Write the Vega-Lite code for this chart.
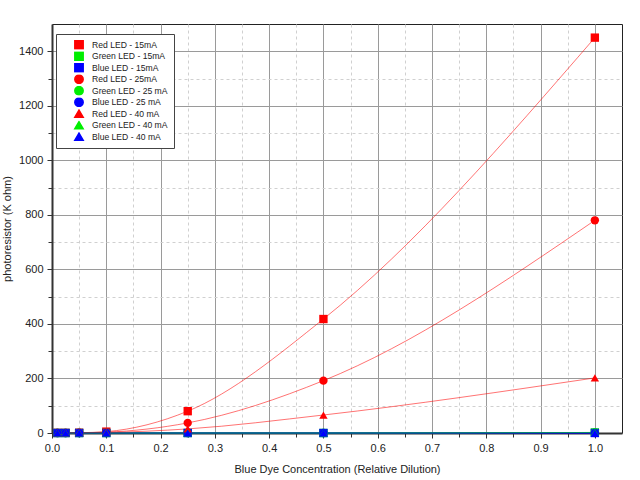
{
  "$schema": "https://vega.github.io/schema/vega-lite/v6.json",
  "width": 570,
  "height": 409,
  "autosize": {"type": "none"},
  "padding": {"left": 52, "top": 24, "right": 18, "bottom": 47},
  "background": "white",
  "config": {
    "font": "Liberation Sans",
    "view": {"stroke": "#222", "strokeWidth": 1},
    "axis": {"labelFont": "Liberation Sans", "titleFont": "Liberation Sans", "labelFontSize": 11, "titleFontSize": 11, "titleFontWeight": "normal", "labelColor": "#222", "titleColor": "#222", "tickColor": "#333", "domainColor": "#333", "labelFlush": false},
    "legend": {"orient": "none", "legendX": 4, "legendY": 10, "fillColor": "white", "strokeColor": "#444", "padding": 6, "labelFontSize": 8.6, "labelFont": "Liberation Sans", "labelColor": "#222", "rowPadding": 1.5, "clipHeight": 9.5, "symbolOffset": 12, "labelOffset": 8, "symbolOpacity": 1}
  },
  "data": {
    "values": [
      {"series": "Red LED - 15mA", "conc": 0.01, "value": 0.5},
      {"series": "Red LED - 15mA", "conc": 0.025, "value": 0.5},
      {"series": "Red LED - 15mA", "conc": 0.05, "value": 1},
      {"series": "Red LED - 15mA", "conc": 0.1, "value": 5},
      {"series": "Red LED - 15mA", "conc": 0.25, "value": 80},
      {"series": "Red LED - 15mA", "conc": 0.5, "value": 418},
      {"series": "Red LED - 15mA", "conc": 1.0, "value": 1450},
      {"series": "Green LED - 15mA", "conc": 0.01, "value": 0},
      {"series": "Green LED - 15mA", "conc": 0.025, "value": 0},
      {"series": "Green LED - 15mA", "conc": 0.05, "value": 0},
      {"series": "Green LED - 15mA", "conc": 0.1, "value": 0},
      {"series": "Green LED - 15mA", "conc": 0.25, "value": 0},
      {"series": "Green LED - 15mA", "conc": 0.5, "value": 0},
      {"series": "Green LED - 15mA", "conc": 1.0, "value": 2},
      {"series": "Blue LED - 15mA", "conc": 0.01, "value": 0},
      {"series": "Blue LED - 15mA", "conc": 0.025, "value": 0},
      {"series": "Blue LED - 15mA", "conc": 0.05, "value": 0},
      {"series": "Blue LED - 15mA", "conc": 0.1, "value": 0},
      {"series": "Blue LED - 15mA", "conc": 0.25, "value": 0},
      {"series": "Blue LED - 15mA", "conc": 0.5, "value": 0},
      {"series": "Blue LED - 15mA", "conc": 1.0, "value": 0},
      {"series": "Red LED - 25mA", "conc": 0.01, "value": 0.5},
      {"series": "Red LED - 25mA", "conc": 0.025, "value": 0.5},
      {"series": "Red LED - 25mA", "conc": 0.05, "value": 1},
      {"series": "Red LED - 25mA", "conc": 0.1, "value": 3},
      {"series": "Red LED - 25mA", "conc": 0.25, "value": 37},
      {"series": "Red LED - 25mA", "conc": 0.5, "value": 192},
      {"series": "Red LED - 25mA", "conc": 1.0, "value": 780},
      {"series": "Green LED - 25 mA", "conc": 0.01, "value": 0},
      {"series": "Green LED - 25 mA", "conc": 0.025, "value": 0},
      {"series": "Green LED - 25 mA", "conc": 0.05, "value": 0},
      {"series": "Green LED - 25 mA", "conc": 0.1, "value": 0},
      {"series": "Green LED - 25 mA", "conc": 0.25, "value": 0},
      {"series": "Green LED - 25 mA", "conc": 0.5, "value": 0},
      {"series": "Green LED - 25 mA", "conc": 1.0, "value": 2},
      {"series": "Blue LED - 25 mA", "conc": 0.01, "value": 0},
      {"series": "Blue LED - 25 mA", "conc": 0.025, "value": 0},
      {"series": "Blue LED - 25 mA", "conc": 0.05, "value": 0},
      {"series": "Blue LED - 25 mA", "conc": 0.1, "value": 0},
      {"series": "Blue LED - 25 mA", "conc": 0.25, "value": 0},
      {"series": "Blue LED - 25 mA", "conc": 0.5, "value": 0},
      {"series": "Blue LED - 25 mA", "conc": 1.0, "value": 0},
      {"series": "Red LED - 40 mA", "conc": 0.01, "value": 0.5},
      {"series": "Red LED - 40 mA", "conc": 0.025, "value": 0.5},
      {"series": "Red LED - 40 mA", "conc": 0.05, "value": 1},
      {"series": "Red LED - 40 mA", "conc": 0.1, "value": 2},
      {"series": "Red LED - 40 mA", "conc": 0.25, "value": 15},
      {"series": "Red LED - 40 mA", "conc": 0.5, "value": 66},
      {"series": "Red LED - 40 mA", "conc": 1.0, "value": 202},
      {"series": "Green LED - 40 mA", "conc": 0.01, "value": 0},
      {"series": "Green LED - 40 mA", "conc": 0.025, "value": 0},
      {"series": "Green LED - 40 mA", "conc": 0.05, "value": 0},
      {"series": "Green LED - 40 mA", "conc": 0.1, "value": 0},
      {"series": "Green LED - 40 mA", "conc": 0.25, "value": 0},
      {"series": "Green LED - 40 mA", "conc": 0.5, "value": 0},
      {"series": "Green LED - 40 mA", "conc": 1.0, "value": 2},
      {"series": "Blue LED - 40 mA", "conc": 0.01, "value": 0},
      {"series": "Blue LED - 40 mA", "conc": 0.025, "value": 0},
      {"series": "Blue LED - 40 mA", "conc": 0.05, "value": 0},
      {"series": "Blue LED - 40 mA", "conc": 0.1, "value": 0},
      {"series": "Blue LED - 40 mA", "conc": 0.25, "value": 0},
      {"series": "Blue LED - 40 mA", "conc": 0.5, "value": 0},
      {"series": "Blue LED - 40 mA", "conc": 1.0, "value": 0}
    ]
  },
  "resolve": {"axis": {"x": "independent", "y": "independent"}},
  "encoding": {
    "color": {"field": "series", "type": "nominal",
      "scale": {"domain": ["Red LED - 15mA", "Green LED - 15mA", "Blue LED - 15mA", "Red LED - 25mA", "Green LED - 25 mA", "Blue LED - 25 mA", "Red LED - 40 mA", "Green LED - 40 mA", "Blue LED - 40 mA"],
        "range": ["#ff0000", "#00ee00", "#0000ff", "#ff0000", "#00ee00", "#0000ff", "#ff0000", "#00ee00", "#0000ff"]},
      "legend": {"title": null}}
  },
  "layer": [
    {
      "mark": {"type": "line", "interpolate": "monotone", "strokeWidth": 1, "opacity": 0.55},
      "encoding": {
        "x": {"field": "conc", "type": "quantitative", "scale": {"domain": [0, 1.05], "nice": false},
          "axis": {"orient": "bottom", "values": [0.05, 0.15, 0.25, 0.35, 0.45, 0.55, 0.65, 0.75, 0.85, 0.95], "labels": false, "title": null, "domain": false, "tickSize": 4, "grid": true, "gridColor": "#d0d0d0", "gridDash": [3, 3], "gridWidth": 1}},
        "y": {"field": "value", "type": "quantitative", "scale": {"domain": [0, 1500], "nice": false},
          "axis": {"orient": "left", "values": [100, 300, 500, 700, 900, 1100, 1300], "labels": false, "title": null, "domain": false, "tickSize": 4, "grid": true, "gridColor": "#d0d0d0", "gridDash": [3, 3], "gridWidth": 1}},
        "detail": {"field": "series"}
      }
    },
    {
      "transform": [{"filter": "indexof(datum.series, '15mA') >= 0"}],
      "mark": {"type": "point", "filled": true, "opacity": 1},
      "encoding": {
        "x": {"field": "conc", "type": "quantitative", "scale": {"domain": [0, 1.05], "nice": false},
          "axis": {"orient": "bottom", "values": [0, 0.1, 0.2, 0.3, 0.4, 0.5, 0.6, 0.7, 0.8, 0.9, 1.0], "format": ".1f", "title": "Blue Dye Concentration (Relative Dilution)", "domainWidth": 2, "tickSize": 5, "labelPadding": 4, "titlePadding": 10, "grid": true, "gridColor": "#9a9a9a", "gridWidth": 1}},
        "y": {"field": "value", "type": "quantitative", "scale": {"domain": [0, 1500], "nice": false},
          "axis": {"orient": "left", "values": [0, 200, 400, 600, 800, 1000, 1200, 1400], "format": "d", "title": "photoresistor (K ohm)", "domainWidth": 2, "tickSize": 5, "labelPadding": 4, "titlePadding": 6, "grid": true, "gridColor": "#9a9a9a", "gridWidth": 1}},
        "shape": {"field": "series", "type": "nominal",
          "scale": {"domain": ["Red LED - 15mA", "Green LED - 15mA", "Blue LED - 15mA", "Red LED - 25mA", "Green LED - 25 mA", "Blue LED - 25 mA", "Red LED - 40 mA", "Green LED - 40 mA", "Blue LED - 40 mA"],
            "range": ["square", "square", "square", "circle", "circle", "circle", "triangle-up", "triangle-up", "triangle-up"]},
          "legend": {"title": null}},
        "size": {"field": "series", "type": "nominal",
          "scale": {"domain": ["Red LED - 15mA", "Green LED - 15mA", "Blue LED - 15mA", "Red LED - 25mA", "Green LED - 25 mA", "Blue LED - 25 mA", "Red LED - 40 mA", "Green LED - 40 mA", "Blue LED - 40 mA"],
            "range": [70, 70, 70, 75, 75, 75, 115, 115, 115]},
          "legend": {"title": null}},
        "order": {"field": "series", "sort": "descending"}
      }
    },
    {
      "transform": [{"filter": "indexof(datum.series, '25') >= 0"}],
      "mark": {"type": "point", "filled": true, "opacity": 1},
      "encoding": {
        "x": {"field": "conc", "type": "quantitative", "axis": null},
        "y": {"field": "value", "type": "quantitative", "axis": null},
        "shape": {"field": "series", "type": "nominal", "legend": {"title": null}},
        "size": {"field": "series", "type": "nominal", "legend": {"title": null}},
        "order": {"field": "series", "sort": "descending"}
      }
    },
    {
      "transform": [{"filter": "indexof(datum.series, '40') >= 0"}],
      "mark": {"type": "point", "filled": true, "opacity": 1},
      "encoding": {
        "x": {"field": "conc", "type": "quantitative", "axis": null},
        "y": {"field": "value", "type": "quantitative", "axis": null},
        "shape": {"field": "series", "type": "nominal", "legend": {"title": null}},
        "size": {"field": "series", "type": "nominal", "legend": {"title": null}},
        "order": {"field": "series", "sort": "descending"}
      }
    }
  ]
}
